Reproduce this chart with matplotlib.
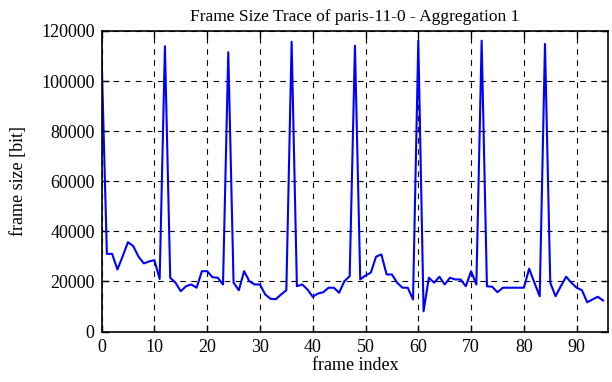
import numpy as np
import matplotlib
matplotlib.use('Agg')
import matplotlib.pyplot as plt

# frame sizes in bit (frames 0..95)
frame_size = [
    110000, 31000, 31000, 24800, 30100, 35700, 34100, 29900, 27200, 28000,
    28500, 21000, 113900, 21500, 19500, 16100, 18100, 18800, 17500, 24100,
    24100, 21700, 21500, 18800, 111500, 19500, 16500, 24100, 20100, 18800,
    18800, 14800, 13100, 12900, 14800, 16500, 115700, 18100, 18800, 16800,
    13900, 15200, 15700, 17500, 17500, 15500, 20100, 22100, 114100, 20800,
    22400, 23500, 29900, 30800, 22800, 22800, 19500, 17500, 17500, 12800,
    116100, 8100, 21500, 19500, 21900, 18800, 21500, 20800, 20800, 18100,
    24100, 18800, 116100, 18100, 17900, 15700, 17500, 17500, 17500, 17500,
    17500, 25100, 19500, 14100, 114800, 19500, 14100, 18100, 21900, 19500,
    17500, 16500, 11700, 12800, 13900, 12400,
]
frame_index = np.arange(len(frame_size))

x_ticks = [0, 10, 20, 30, 40, 50, 60, 70, 80, 90]
y_ticks = [0, 20000, 40000, 60000, 80000, 100000, 120000]

plt.rcParams['font.family'] = ['Liberation Serif', 'DejaVu Serif']
plt.rcParams['font.size'] = 13

fig = plt.figure(figsize=(6.12, 3.82), dpi=100)
ax = fig.add_axes([0.166, 0.132, 0.828, 0.787])

ax.plot(frame_index, frame_size, color='#0000ff', lw=1.5)

ax.set_xlim(0, 96)
ax.set_ylim(0, 120000)
ax.set_xticks(x_ticks)
ax.set_yticks(y_ticks)
ax.grid(True, color='black', linestyle=(0, (5, 5)), linewidth=0.8)
ax.tick_params(direction='in', top=True, right=True, length=5, width=1.0,
               labelsize=13, pad=5)
for s in ax.spines.values():
    s.set_linewidth(1.2)

ax.set_title('Frame Size Trace of paris-11-0 - Aggregation 1', fontsize=12.5, pad=7)
ax.set_xlabel('frame index', fontsize=13, labelpad=1)
ax.set_ylabel('frame size [bit]', fontsize=13, labelpad=10)

fig.savefig('out.png', dpi=100)
